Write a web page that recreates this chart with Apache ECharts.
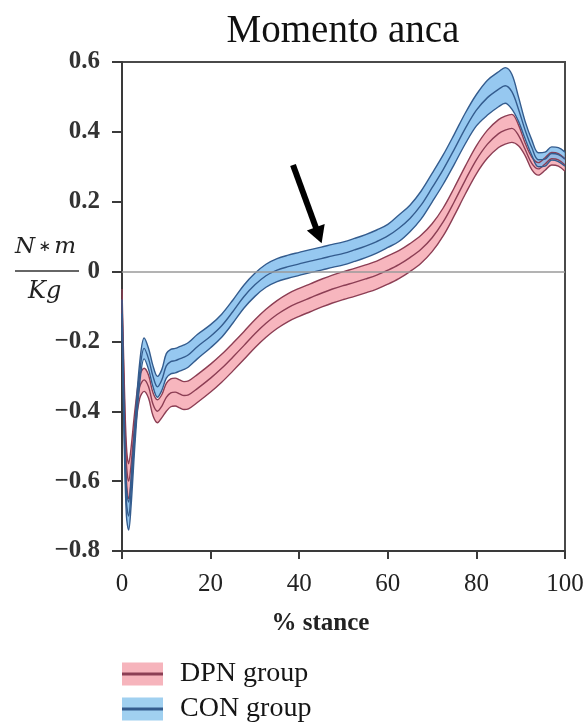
<!DOCTYPE html>
<html>
<head>
<meta charset="utf-8">
<title>Momento anca</title>
<script src="https://cdn.jsdelivr.net/npm/echarts@6/dist/echarts.min.js"></script>
<style>
  html, body { margin: 0; padding: 0; background: #fff; }
  #chart { width: 588px; height: 727px; }
</style>
</head>
<body>
<div id="chart"></div>
<script>
// % of stance phase at which the curves are sampled
const stance = [0, 0.5, 1, 1.5, 2, 3, 4, 5, 6, 7, 8, 9, 10, 11, 12, 13, 14, 15, 17, 20,
  22.5, 25, 27.5, 30, 32.5, 35, 37.5, 40, 42.5, 45, 47.5, 50, 52.5, 55, 57.5, 60,
  62.5, 65, 67.5, 70, 72.5, 75, 77.5, 80, 82.5, 85, 86.5, 88, 89.5, 91, 92.5, 94,
  95.5, 97, 98.5, 100];

// Hip moment (N*m/Kg), CON group: mean and band edges
const conMean = [-0.12, -0.45, -0.66, -0.70, -0.64, -0.45, -0.29, -0.22, -0.25, -0.30, -0.33, -0.31,
  -0.27, -0.258, -0.255, -0.25, -0.245, -0.238, -0.215, -0.185, -0.155, -0.115, -0.072, -0.038,
  -0.012, 0.004, 0.014, 0.022, 0.03, 0.037, 0.045, 0.052, 0.062, 0.073, 0.086, 0.102, 0.124,
  0.152, 0.19, 0.24, 0.292, 0.35, 0.41, 0.462, 0.498, 0.522, 0.532, 0.515, 0.465, 0.405, 0.355,
  0.32, 0.322, 0.338, 0.335, 0.322];
const conUpper = [-0.08, -0.41, -0.62, -0.66, -0.60, -0.42, -0.26, -0.19, -0.22, -0.27, -0.30, -0.28,
  -0.235, -0.223, -0.22, -0.215, -0.21, -0.203, -0.18, -0.152, -0.122, -0.082, -0.039, -0.005,
  0.021, 0.037, 0.047, 0.055, 0.063, 0.07, 0.078, 0.085, 0.095, 0.106, 0.119, 0.135, 0.162,
  0.19, 0.23, 0.281, 0.334, 0.393, 0.454, 0.507, 0.548, 0.572, 0.584, 0.565, 0.50, 0.43, 0.377,
  0.34, 0.342, 0.357, 0.355, 0.342];
const conLower = [-0.16, -0.49, -0.70, -0.74, -0.68, -0.48, -0.32, -0.25, -0.28, -0.33, -0.36, -0.34,
  -0.305, -0.293, -0.29, -0.285, -0.28, -0.273, -0.25, -0.218, -0.188, -0.148, -0.105, -0.071,
  -0.045, -0.029, -0.019, -0.011, -0.003, 0.004, 0.012, 0.019, 0.029, 0.04, 0.053, 0.069, 0.086,
  0.114, 0.15, 0.199, 0.25, 0.307, 0.366, 0.417, 0.448, 0.472, 0.482, 0.465, 0.43, 0.38, 0.333,
  0.30, 0.302, 0.319, 0.315, 0.302];

// Hip moment (N*m/Kg), DPN group: mean and band edges
const dpnMean = [-0.08, -0.35, -0.55, -0.60, -0.56, -0.42, -0.33, -0.31, -0.33, -0.38, -0.40, -0.385,
  -0.36, -0.347, -0.345, -0.35, -0.355, -0.353, -0.335, -0.305, -0.277, -0.245, -0.212, -0.178,
  -0.148, -0.123, -0.103, -0.088, -0.075, -0.062, -0.05, -0.04, -0.031, -0.021, -0.01, 0.004,
  0.02, 0.04, 0.064, 0.097, 0.142, 0.2, 0.262, 0.32, 0.365, 0.395, 0.405, 0.41, 0.39, 0.35,
  0.31, 0.294, 0.308, 0.323, 0.32, 0.305];
const dpnUpper = [-0.05, -0.31, -0.50, -0.55, -0.51, -0.387, -0.297, -0.277, -0.297, -0.347, -0.367, -0.352,
  -0.32, -0.307, -0.305, -0.31, -0.315, -0.313, -0.295, -0.265, -0.237, -0.205, -0.172, -0.138,
  -0.108, -0.083, -0.063, -0.048, -0.035, -0.022, -0.01, 0.0, 0.009, 0.019, 0.03, 0.045,
  0.06, 0.08, 0.104, 0.137, 0.182, 0.24, 0.302, 0.36, 0.405, 0.435, 0.445, 0.45, 0.42, 0.368,
  0.328, 0.312, 0.326, 0.341, 0.338, 0.323];
const dpnLower = [-0.11, -0.39, -0.60, -0.65, -0.61, -0.453, -0.363, -0.343, -0.363, -0.413, -0.433, -0.418,
  -0.40, -0.387, -0.385, -0.39, -0.395, -0.393, -0.375, -0.345, -0.317, -0.285, -0.252, -0.218,
  -0.188, -0.163, -0.143, -0.128, -0.115, -0.102, -0.09, -0.08, -0.071, -0.061, -0.05, -0.036,
  -0.02, 0.0, 0.024, 0.057, 0.102, 0.16, 0.222, 0.28, 0.325, 0.355, 0.365, 0.37, 0.36, 0.332,
  0.292, 0.276, 0.29, 0.305, 0.302, 0.287];

// Axis ticks
const xTicks = [0, 20, 40, 60, 80, 100];
const yTicks = [-0.8, -0.6, -0.4, -0.2, 0, 0.2, 0.4, 0.6];

// Arrow annotation, [stance %, moment] from tail to head
const arrowTail = [38.6, 0.305];
const arrowHead = [44.4, 0.104];

const groups = ['DPN group', 'CON group'];

const DPN_FILL = 'rgb(245,164,174)';
const DPN_LINE = 'rgb(140,62,84)';
const CON_FILL = 'rgb(124,186,236)';
const CON_LINE = 'rgb(52,92,142)';
const SERIF = '"Liberation Serif", "Times New Roman", serif';
const SMOOTH = 0.35;

// Points are stored as [moment, stance] so the stacked dimension is the moment
// (the first value dimension); encode maps them back onto x/y.
const pairs = (ys) => stance.map((x, i) => [ys[i], x]);
const widths = (up, lo) => stance.map((x, i) => [+(up[i] - lo[i]).toFixed(4), x]);
const ENCODE = { x: 1, y: 0 };

function bandSeries(key, upper, lower, fill, opacity) {
  return [
    {
      name: key + ' base', type: 'line', stack: key, stackStrategy: 'all',
      data: pairs(lower), encode: ENCODE, smooth: SMOOTH, symbol: 'none', silent: true,
      lineStyle: { opacity: 0 }, z: 1
    },
    {
      name: key + ' band', type: 'line', stack: key, stackStrategy: 'all',
      data: widths(upper, lower), encode: ENCODE, smooth: SMOOTH, symbol: 'none', silent: true,
      color: fill, itemStyle: { color: fill },
      lineStyle: { opacity: 0 }, areaStyle: { color: fill, opacity: opacity }, z: 1
    }
  ];
}

function edgeLine(name, ys, color, width) {
  return {
    name: name, type: 'line', data: pairs(ys), encode: ENCODE, smooth: SMOOTH,
    symbol: 'none', silent: true,
    color: color, lineStyle: { color: color, width: width }, z: 3
  };
}

const zeroLine = {
  silent: true, symbol: 'none',
  label: { show: false },
  lineStyle: { color: '#9a9a9a', width: 1.5, type: 'solid' },
  data: [{ yAxis: 0 }]
};

const arrowLine = {
  silent: true, symbol: ['none', 'triangle'], symbolSize: [19, 17],
  label: { show: false },
  lineStyle: { color: '#000', width: 6, type: 'solid', opacity: 1 },
  itemStyle: { color: '#000' },
  data: [[{ coord: arrowTail }, { coord: arrowHead }]]
};

const series = [
  ...bandSeries('DPN', dpnUpper, dpnLower, DPN_FILL, 0.8),
  ...bandSeries('CON', conUpper, conLower, CON_FILL, 0.8),
  edgeLine('DPN upper', dpnUpper, DPN_LINE, 1.4),
  edgeLine('DPN lower', dpnLower, DPN_LINE, 1.4),
  edgeLine(groups[0], dpnMean, DPN_LINE, 1.4),
  edgeLine('CON upper', conUpper, CON_LINE, 1.4),
  edgeLine('CON lower', conLower, CON_LINE, 1.4),
  edgeLine(groups[1], conMean, CON_LINE, 1.4)
];
series[0].markLine = zeroLine;
series[series.length - 1].markLine = arrowLine;

const fmtY = (v) => {
  const r = Math.round(v * 10) / 10;
  if (r === 0) return '0';
  return r.toFixed(1).replace('-', '\u2212');
};

const legendBase = {
  orient: 'vertical', left: 122, top: 660, height: 120, padding: 0,
  itemWidth: 41, itemHeight: 23, itemGap: 7,
  selectedMode: false,
  textStyle: { fontFamily: SERIF, fontSize: 28, lineHeight: 23, padding: [0, 0, 0, 12] }
};

const chart = echarts.init(document.getElementById('chart'), null, { renderer: 'canvas' });
chart.setOption({
  animation: false,
  backgroundColor: '#fff',
  title: {
    text: 'Momento anca', left: 338, top: 7, textAlign: 'center',
    textStyle: { fontFamily: SERIF, fontSize: 39, fontWeight: 'normal', color: '#111' }
  },
  grid: {
    left: 122, right: 23, top: 62, bottom: 176,
    show: true, borderColor: '#4a4a4a', borderWidth: 2, backgroundColor: 'transparent'
  },
  legend: [
    Object.assign({}, legendBase, {
      icon: 'rect',
      data: [
        { name: 'DPN band', itemStyle: { color: 'rgb(246,180,188)', borderWidth: 0 } },
        { name: 'CON band', itemStyle: { color: 'rgb(160,208,240)', borderWidth: 0 } }
      ],
      formatter: (n) => n.replace(' band', ' group'),
      textStyle: Object.assign({}, legendBase.textStyle, { color: 'rgba(0,0,0,0)' })
    }),
    Object.assign({}, legendBase, {
      icon: 'path://M0,0 H100 V7 H0 Z',
      data: [
        { name: groups[0], itemStyle: { color: DPN_LINE } },
        { name: groups[1], itemStyle: { color: CON_LINE } }
      ],
      textStyle: Object.assign({}, legendBase.textStyle, { color: '#151515' })
    })
  ],
  xAxis: {
    type: 'value', min: xTicks[0], max: xTicks[xTicks.length - 1], interval: 20,
    name: '% stance', nameLocation: 'middle', nameGap: 60,
    nameTextStyle: { fontFamily: SERIF, fontSize: 25, fontWeight: 'bold', color: '#222', padding: [0, 46, 0, 0] },
    axisLine: { show: true, onZero: false, lineStyle: { color: '#3a3a3a', width: 2 } },
    axisTick: { show: true, inside: false, length: 8, lineStyle: { color: '#3a3a3a', width: 2 } },
    axisLabel: { fontFamily: SERIF, fontSize: 25, color: '#222', margin: 21 },
    splitLine: { show: false }
  },
  yAxis: {
    type: 'value', min: yTicks[0], max: yTicks[yTicks.length - 1], interval: 0.2,
    axisLine: { show: true, onZero: false, lineStyle: { color: '#3a3a3a', width: 2 } },
    axisTick: { show: true, inside: false, length: 10, lineStyle: { color: '#3a3a3a', width: 2 } },
    axisLabel: { fontFamily: SERIF, fontSize: 25, fontWeight: 'bold', color: '#333', margin: 22, formatter: fmtY },
    splitLine: { show: false }
  },
  graphic: [
    {
      type: 'text', left: 15, top: 236,
      style: {
        text: '{v|N} {s|\u2217} {v|m}',
        rich: {
          v: { font: 'italic 23px "DejaVu Serif", serif', fill: '#222' },
          s: { font: '15px "DejaVu Sans", sans-serif', fill: '#222' }
        }
      }
    },
    {
      type: 'line', shape: { x1: 15, y1: 271, x2: 79, y2: 271 },
      style: { stroke: '#333', lineWidth: 1.5 }
    },
    {
      type: 'text', left: 28, top: 280,
      style: { text: 'Kg', font: 'italic 24px "DejaVu Serif", serif', fill: '#222' }
    }
  ],
  series: series
});
</script>
</body>
</html>
